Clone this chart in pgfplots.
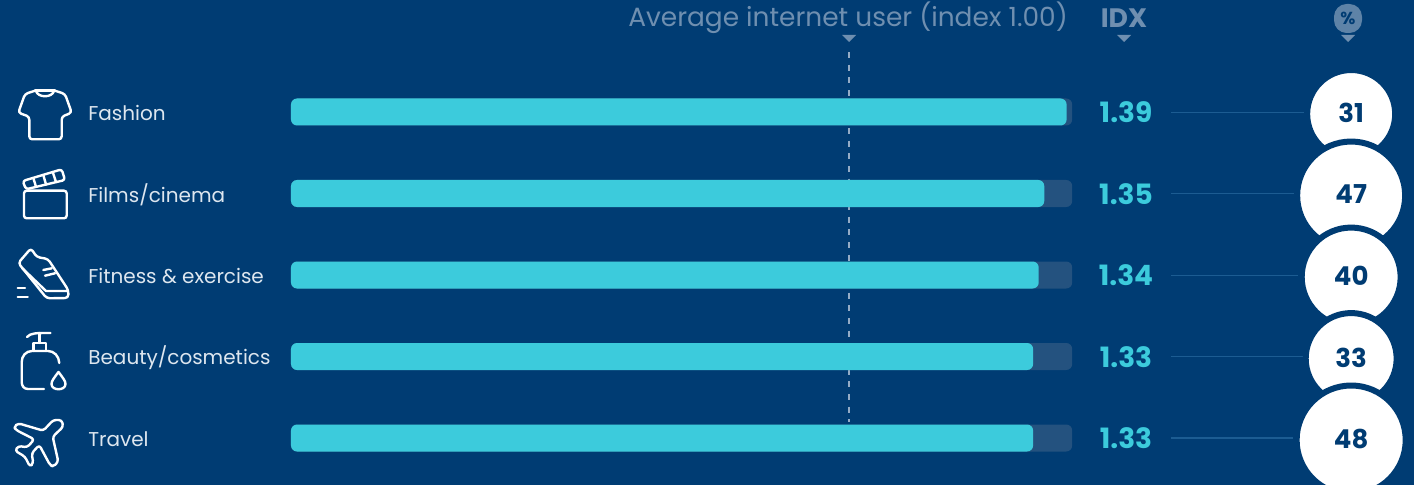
\documentclass[border=0pt]{standalone}
\usepackage{fontspec}
\setmainfont{Poppins}
\usepackage{pgfplots}
\usepackage{pgfplotstable}
\pgfplotsset{compat=1.18}
\definecolor{navy}{HTML}{003C73}
\definecolor{cyanbar}{HTML}{3CCBDC}
\definecolor{track}{HTML}{24527F}
\definecolor{headtxt}{HTML}{6F8FB0}
\definecolor{dashc}{HTML}{95ACC6}
\definecolor{conn}{HTML}{1C5C92}
\definecolor{lab}{HTML}{DDE6EF}
\pgfplotstableread[col sep=comma]{
y,idx,txt,lx,ix,pct,cx
0,1.39,Fashion,-0.3637,1.4965,31,1.9
1,1.35,{Films/cinema},-0.3637,1.4965,47,1.9
2,1.34,{Fitness \& exercise},-0.3637,1.4965,40,1.9
3,1.33,{Beauty/cosmetics},-0.3637,1.4965,33,1.9
4,1.33,Travel,-0.3637,1.4965,48,1.9
}\datatable
\begin{document}
\begin{tikzpicture}[x=0.75pt,y=-0.75pt,yshift=363.75pt]
\path[use as bounding box] (0,0) rectangle (1414,485);
\fill[navy] (0,0) rectangle (1414,485);
\begin{axis}[
  at={(0pt,-363.75pt)},anchor=south west,
  scale only axis,width=1060.5pt,height=363.75pt,
  hide axis,
  xmin=-0.52151,xmax=2.01254,
  ymin=-1.3742,ymax=4.5767,y dir=reverse,
  clip=true,
  xbar,
  bar shift=0pt,
  bar width=20.25pt,
]
% reference dashed line
\addplot[sharp plot,draw=dashc,line width=1.9pt,dash pattern=on 4.5pt off 5pt,forget plot]
  coordinates {(1,-0.736) (1,3.80)};
% track
\addplot[draw=none,fill=track,rounded corners=4.5pt] coordinates
  {(1.40,0) (1.40,1) (1.40,2) (1.40,3) (1.40,4)};
% index bars
\addplot[draw=none,fill=cyanbar,rounded corners=4.5pt] table[x=idx,y=y,col sep=comma] {\datatable};
% connector lines
\addplot[sharp plot,draw=conn,line width=1pt] coordinates {(1.577,0.01) (1.816,0.01)};
\addplot[sharp plot,draw=conn,line width=1pt] coordinates {(1.577,1) (1.797,1)};
\addplot[sharp plot,draw=conn,line width=1pt] coordinates {(1.577,2.01) (1.804,2.01)};
\addplot[sharp plot,draw=conn,line width=1pt] coordinates {(1.577,3) (1.813,3)};
\addplot[sharp plot,draw=conn,line width=1pt] coordinates {(1.577,4) (1.795,4)};
% circles whose area follows the percentage
\addplot[only marks,mark=*,mark size=33pt,mark options={fill=white,draw=navy,line width=4.5pt}] coordinates {(1.9,0.025)};
\addplot[only marks,mark=*,mark size=40.5pt,mark options={fill=white,draw=navy,line width=4.5pt}] coordinates {(1.9,1.025)};
\addplot[only marks,mark=*,mark size=37.1pt,mark options={fill=white,draw=navy,line width=4.5pt}] coordinates {(1.9,2.025)};
\addplot[only marks,mark=*,mark size=34.1pt,mark options={fill=white,draw=navy,line width=4.5pt}] coordinates {(1.9,3.025)};
\addplot[only marks,mark=*,mark size=40.9pt,mark options={fill=white,draw=navy,line width=4.5pt}] coordinates {(1.9,4.025)};
% text
\addplot[sharp plot,draw=none,mark=none,point meta=explicit symbolic,
  nodes near coords,
  nodes near coords style={anchor=center,yshift=-0.75pt,font=\bfseries\fontsize{19.5}{19}\selectfont,text=navy}]
  table[x=cx,y=y,meta=pct,col sep=comma] {\datatable};
\addplot[sharp plot,draw=none,mark=none,point meta=explicit symbolic,
  nodes near coords,
  nodes near coords style={anchor=center,yshift=-0.4pt,font=\bfseries\fontsize{21}{19}\selectfont,text=cyanbar}]
  table[x=ix,y=y,meta=idx,col sep=comma] {\datatable};
\addplot[sharp plot,draw=none,mark=none,point meta=explicit symbolic,
  nodes near coords,
  nodes near coords style={anchor=west,inner sep=0pt,yshift=-0.6pt,font=\fontsize{15}{15}\selectfont,text=lab}]
  table[x=lx,y=y,meta=txt,col sep=comma] {\datatable};
\end{axis}
% header
\node[anchor=east,inner sep=0pt,text=headtxt,font=\fontsize{19.8}{19}\selectfont] at (1068,18) {Average internet user (index 1.00)};
\node[inner sep=0pt,text=headtxt,font=\bfseries\fontsize{20}{19}\selectfont] at (1124,18) {IDX};
\fill[headtxt] (842,35) -- (856,35) -- (849,42) -- cycle;
\fill[headtxt] (1117,35) -- (1131,35) -- (1124,42) -- cycle;
\fill[headtxt] (1341,35) -- (1355,35) -- (1348,42) -- cycle;
\fill[headtxt!85!navy,rounded corners=9.5pt] (1334,4) rectangle (1362,33);
\node[inner sep=0pt,text=navy,font=\bfseries\fontsize{13}{13}\selectfont] at (1348,18) {\%};
% icons
\begin{scope}[draw=white,line width=1.8pt,line join=round,line cap=round]
% shirt
\draw[rounded corners=2.2pt] (35,90.7) -- (25,94) -- (18.3,112.7) -- (29.3,116.7) -- (29.3,139.3) -- (61.7,139.3) -- (61.7,116.7) -- (71.7,112.7) -- (65,94) -- (55,90.7);
\draw (35,90.7) -- (55,90.7);
\draw (36,91) .. controls (38,98) and (52,98) .. (54,91);
% clapper
\draw[rounded corners=2pt] (24,190.7) rectangle (66.7,218.3);
\draw[rounded corners=2pt] (22.7,181) -- (61.7,169.3) -- (65,180) -- (26,189.3) -- cycle;
\draw (33.3,178) -- (36,186.7) (43.3,175) -- (46,184.5) (52.7,172) -- (56,182);
% shoe
\draw[rounded corners=2.4pt] (18.3,263) -- (31,248.3) -- (36.7,257) -- (48,259) -- (68.3,290) -- (68.3,298) -- (46.7,298.3) -- cycle;
\draw (22,268) -- (46,291) -- (68,291);
\draw (43.3,270) -- (51.7,268.3) (45,275.7) -- (55,273.3);
\draw (17.7,288.3) -- (25,288.3) (17.7,297.3) -- (27.7,297.3);
% bottle
\draw (27,337) .. controls (31,333) and (35,333) .. (50.5,333);
\draw (39.5,333) -- (39.5,343);
\draw (33.5,351) -- (33.5,343) -- (46,343) -- (46,351);
\draw (59.3,363) .. controls (59,356) and (54,351) .. (48,351) -- (32,351) .. controls (26,351) and (21.7,356) .. (21.7,362) -- (21.7,382) .. controls (21.7,386) and (24,389) .. (28,389) -- (44,389);
\draw (58.5,372) .. controls (54,378) and (51.5,381) .. (51.5,384) .. controls (51.5,391) and (65.5,391) .. (65.5,384) .. controls (65.5,381) and (63,378) .. (58.5,372) -- cycle;
% plane
\draw[rounded corners=2.2pt] (53.3,420) -- (61.7,420) -- (63.3,426.7) -- (52.7,436.7) -- (58.3,461.7) -- (53.3,466.7) -- (50,465) -- (39.3,445) -- (31.7,453.3) -- (33.3,463.3) -- (30,466.7) -- (25,456.7) -- (15,450.7) -- (18.3,446) -- (27.3,447.3) -- (34.3,439.3) -- (16,430) -- (14,426.7) -- (18.3,423.3) -- (43.3,430.7) -- cycle;
\end{scope}
\end{tikzpicture}
\end{document}
